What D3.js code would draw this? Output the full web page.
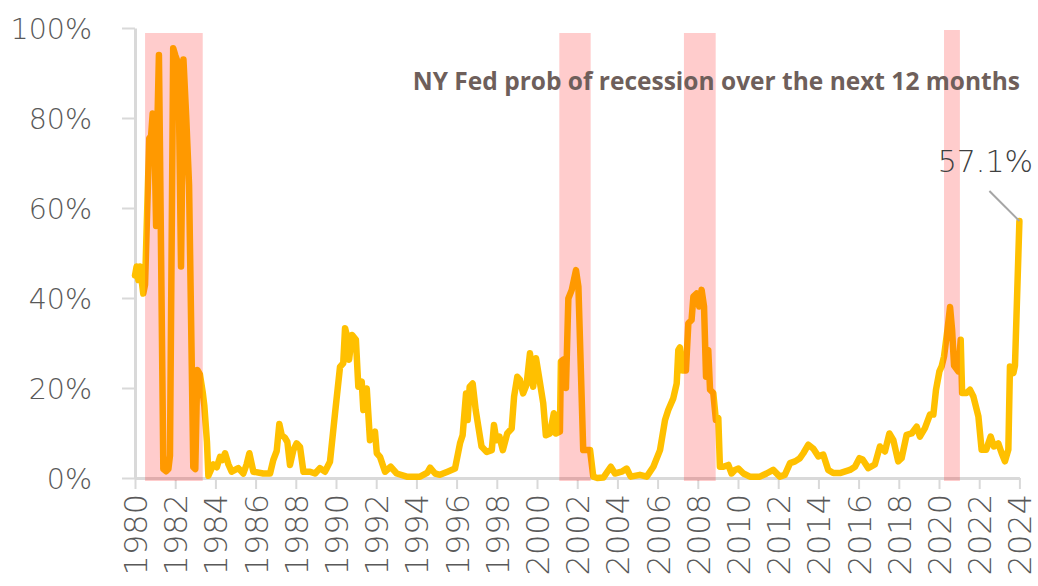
<!DOCTYPE html>
<html>
<head>
<meta charset="utf-8">
<script src="https://cdn.jsdelivr.net/npm/d3@7"></script>
<style>
  body { margin: 0; background: #fff; }
  svg text { font-family: "DejaVu Sans", sans-serif; }
</style>
</head>
<body>
<div class="chart"></div>
<script>
// decimal year of each reading
const probDates = [
  1980.0, 1980.08, 1980.17, 1980.25, 1980.41, 1980.5, 1980.71, 1980.8, 1980.88, 1980.95,
  1981.05, 1981.12, 1981.19, 1981.25, 1981.41, 1981.55, 1981.66, 1981.74, 1981.9, 1982.0,
  1982.16, 1982.29, 1982.41, 1982.55, 1982.69, 1982.9, 1983.0, 1983.1, 1983.23, 1983.37,
  1983.45, 1983.58, 1983.65, 1983.9, 1984.07, 1984.23, 1984.35, 1984.48, 1984.65, 1984.81,
  1985.14, 1985.39, 1985.55, 1985.69, 1985.89, 1986.38, 1986.72, 1986.88, 1987.05, 1987.18,
  1987.3, 1987.45, 1987.58, 1987.71, 1987.88, 1988.04, 1988.21, 1988.38, 1988.71, 1988.96,
  1989.2, 1989.45, 1989.7, 1989.95, 1990.2, 1990.36, 1990.45, 1990.55, 1990.65, 1990.8,
  1990.99, 1991.11, 1991.28, 1991.36, 1991.53, 1991.69, 1991.94, 1992.03, 1992.19, 1992.44,
  1992.72, 1993.02, 1993.52, 1994.18, 1994.55, 1994.68, 1994.93, 1995.17, 1995.55, 1995.92,
  1996.17, 1996.3, 1996.47, 1996.55, 1996.65, 1996.8, 1996.95, 1997.24, 1997.5, 1997.75,
  1997.86, 1997.98, 1998.13, 1998.3, 1998.52, 1998.74, 1998.86, 1999.02, 1999.15, 1999.31,
  1999.48, 1999.65, 1999.81, 1999.95, 2000.1, 2000.31, 2000.44, 2000.64, 2000.84, 2000.94,
  2001.14, 2001.19, 2001.3, 2001.44, 2001.56, 2001.73, 2001.94, 2002.06, 2002.3, 2002.64,
  2002.8, 2003.0, 2003.3, 2003.67, 2003.88, 2004.21, 2004.46, 2004.66, 2005.12, 2005.46,
  2005.79, 2006.12, 2006.37, 2006.53, 2006.78, 2006.95, 2007.03, 2007.11, 2007.24, 2007.41,
  2007.53, 2007.69, 2007.78, 2007.94, 2008.07, 2008.19, 2008.31, 2008.41, 2008.52, 2008.61,
  2008.77, 2008.9, 2009.02, 2009.1, 2009.27, 2009.52, 2009.68, 2009.85, 2010.02, 2010.27,
  2010.59, 2011.09, 2011.42, 2011.75, 2012.08, 2012.33, 2012.59, 2012.84, 2013.08, 2013.25,
  2013.5, 2013.75, 2014.0, 2014.24, 2014.49, 2014.74, 2015.07, 2015.57, 2015.82, 2016.04,
  2016.2, 2016.48, 2016.81, 2017.06, 2017.31, 2017.53, 2017.73, 2017.97, 2018.14, 2018.39,
  2018.64, 2018.89, 2019.05, 2019.3, 2019.55, 2019.72, 2019.85, 2020.02, 2020.13, 2020.25,
  2020.42, 2020.55, 2020.65, 2020.75, 2020.96, 2021.08, 2021.15, 2021.37, 2021.54, 2021.71,
  2021.96, 2022.12, 2022.35, 2022.57, 2022.73, 2022.95, 2023.12, 2023.28, 2023.45, 2023.53,
  2023.7, 2023.78, 2024.0
];

// NY Fed probability of recession over the next 12 months, %
const probValues = [
  45, 47, 44, 47, 41, 43, 75.5, 76, 81, 80,
  56, 80, 94, 70, 2, 1.5, 2, 5, 95.5, 94,
  92, 47, 93, 80, 65, 2.4, 2, 24, 23, 19,
  16, 8, 0.5, 3, 2.4, 4.7, 4, 5.5, 3, 1.4,
  2.2, 1, 3, 5.5, 1.4, 1, 1, 4, 6, 12,
  9.5, 9, 8, 2.9, 6.2, 7.7, 6.9, 1.4, 1.4, 1,
  2.2, 1.4, 3.6, 14.3, 24.7, 25.5, 33.3, 31.5, 26.3, 31.8,
  30.7, 20.3, 21.4, 15.1, 19.9, 8.4, 10.3, 5.5, 4.7, 1.4,
  2.5, 1, 0.3, 0.3, 1.2, 2.3, 1, 0.7, 1.4, 2.1,
  7.7, 9.5, 18.8, 12.9, 20.3, 21, 15.1, 7, 5.8, 6.2,
  11.8, 8.4, 9.2, 6.2, 9.9, 11, 18.1, 22.5, 21.8, 18.8,
  20.7, 27.7, 20.3, 26.6, 22.5, 16.6, 9.5, 9.9, 14.4, 9.9,
  10.3, 25.9, 26.3, 20, 39.9, 41.8, 46.2, 42.5, 6.2, 6.2,
  0.3, 0, 0.1, 2.5, 1, 1.4, 2.1, 0.3, 0.7, 0.3,
  2.5, 6.2, 12.9, 15.1, 17.7, 21, 28.4, 29, 23.9, 23.9,
  34.4, 35.1, 40.3, 41, 38.1, 41.8, 38.1, 22.5, 28.4, 19.6,
  18.9, 12.9, 13.3, 2.5, 2.5, 2.9, 1, 1.8, 2.1, 1,
  0.3, 0.3, 1, 1.8, 0.3, 0.7, 3.3, 3.7, 4.4, 5.5,
  7.4, 6.5, 4.8, 5.2, 1.8, 1.1, 1.1, 1.8, 2.5, 4.4,
  4.1, 2.2, 3, 7, 5.9, 9.9, 8.4, 3.7, 4.4, 9.6,
  9.9, 11.4, 9.2, 11.1, 14.1, 14.1, 19.6, 23.7, 24.8, 27,
  32.9, 38, 33, 25, 23.7, 30.7, 18.9, 18.9, 19.6, 18.1,
  13.7, 6.3, 6.3, 9.2, 7, 7.7, 5.5, 3.7, 6.3, 24.8,
  23.3, 25, 57.1
];

// shaded recession periods (decimal years)
const recessionStarts = [1980.5, 2001.11, 2007.31, 2020.25];
const recessionEnds = [1983.37, 2002.67, 2008.89, 2021.04];

const yTicks = [0, 20, 40, 60, 80, 100];
const xTickYears = [1980, 1982, 1984, 1986, 1988, 1990, 1992, 1994, 1996, 1998, 2000,
  2002, 2004, 2006, 2008, 2010, 2012, 2014, 2016, 2018, 2020, 2022, 2024];

const chartTitle = "NY Fed prob of recession over the next 12 months";
const lastLabel = "57.1%";

const w = 1038;
const h = 586;

const data = probDates.map((d, i) => ({ year: d, value: probValues[i] }));
const bands = recessionStarts.map((s, i) => ({ start: s, end: recessionEnds[i] }));

const xScale = d3.scaleLinear().domain([1980, 2024]).range([135, 1019.4]);
const yScale = d3.scaleLinear().domain([0, 100]).range([478, 28]);

const svg = d3.select(".chart")
  .append("svg")
  .attr("width", w)
  .attr("height", h);

/* axes */
const yAxis = d3.axisLeft(yScale)
  .tickValues(yTicks)
  .tickSize(13)
  .tickSizeOuter(0)
  .tickPadding(30)
  .tickFormat(d => d + "%");

const gy = svg.append("g")
  .attr("transform", "translate(" + xScale(1980) + ",0)")
  .call(yAxis);

const xAxis = d3.axisBottom(xScale)
  .tickValues(xTickYears)
  .tickSize(11)
  .tickSizeOuter(0)
  .tickFormat(d => d);

const gx = svg.append("g")
  .attr("transform", "translate(0," + yScale(0) + ")")
  .call(xAxis);

[gx, gy].forEach(g => {
  g.select(".domain").attr("stroke", "#d9d9d9").attr("stroke-width", 3);
  g.selectAll(".tick line").attr("stroke", "#d9d9d9").attr("stroke-width", 2);
  g.selectAll(".tick text")
    .attr("fill", "#595959")
    .style("font-size", "28.5px")
    .style("font-weight", 200);
});

gx.selectAll(".tick text")
  .attr("transform", "rotate(-90)")
  .attr("text-anchor", "end")
  .attr("x", -16)
  .attr("y", 0)
  .attr("dy", "0.36em")
  .style("font-size", "32px");

gy.selectAll(".tick text").attr("dy", "0.36em");

/* probability line */
const line = d3.line()
  .x(d => xScale(d.year))
  .y(d => yScale(d.value));

svg.append("path")
  .datum(data)
  .attr("fill", "none")
  .attr("stroke", "#FFC000")
  .attr("stroke-width", 6.5)
  .attr("stroke-linejoin", "round")
  .attr("stroke-linecap", "round")
  .attr("d", line);

/* recession shading sits over the line */
svg.selectAll("rect.band")
  .data(bands)
  .enter()
  .append("rect")
  .attr("class", "band")
  .attr("x", d => xScale(d.start))
  .attr("width", d => xScale(d.end) - xScale(d.start))
  .attr("y", (d, i) => i === 3 ? 30 : 33)
  .attr("height", (d, i) => yScale(0) + 3 - (i === 3 ? 30 : 33))
  .attr("fill", "rgba(255,0,0,0.2)");

/* title */
svg.append("text")
  .attr("x", 1020)
  .attr("y", 90)
  .attr("text-anchor", "end")
  .attr("fill", "#6e5f5b")
  .style("font-family", "'Open Sans', sans-serif")
  .style("font-weight", 700)
  .style("font-size", "24.5px")
  .text(chartTitle);

/* last value callout */
const last = data[data.length - 1];
svg.append("line")
  .attr("x1", xScale(last.year) - 30)
  .attr("y1", yScale(last.value) - 30)
  .attr("x2", xScale(last.year))
  .attr("y2", yScale(last.value))
  .attr("stroke", "#a6a6a6")
  .attr("stroke-width", 2);

svg.append("text")
  .attr("x", 1033)
  .attr("y", 172)
  .attr("text-anchor", "end")
  .attr("fill", "#404040")
  .style("font-size", "30px")
  .style("font-weight", 200)
  .text(lastLabel);
</script>
</body>
</html>
